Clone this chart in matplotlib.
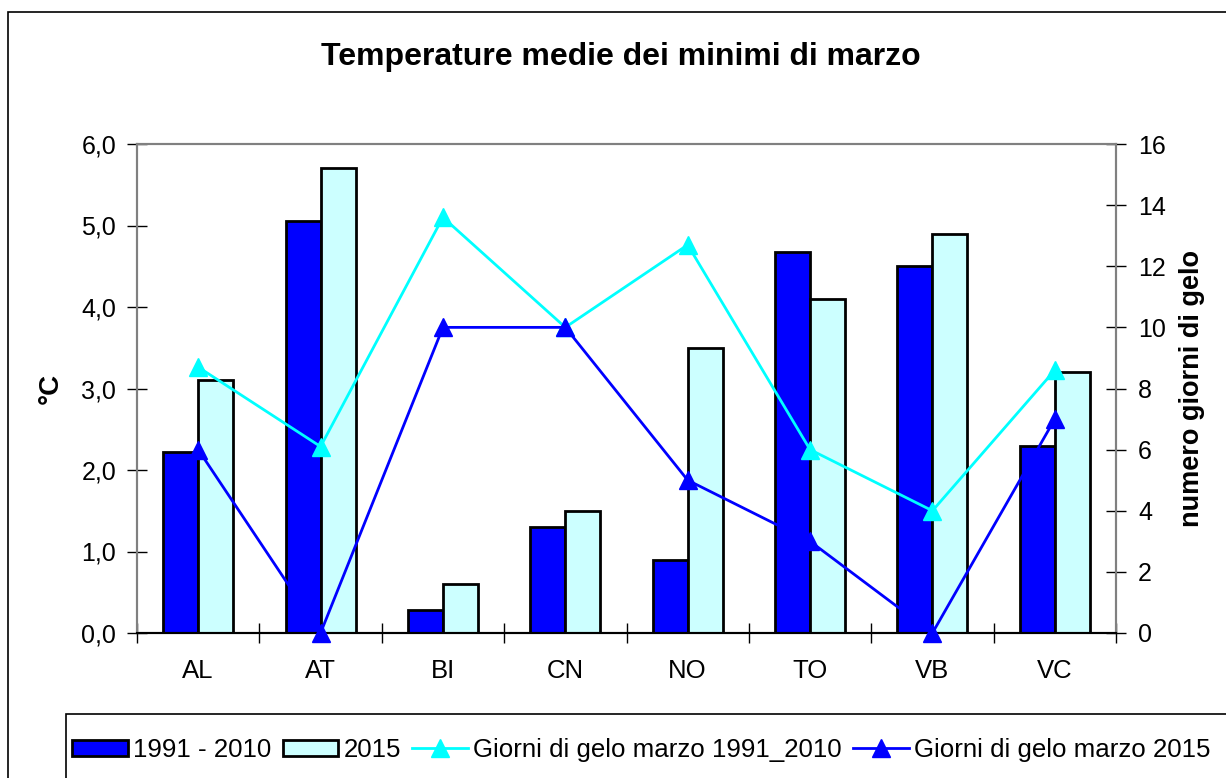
import matplotlib
matplotlib.use("Agg")
import matplotlib.pyplot as plt
from matplotlib.patches import Rectangle
from matplotlib.lines import Line2D
from matplotlib.patches import Patch
from matplotlib.ticker import FuncFormatter, MultipleLocator
import numpy as np

plt.rcParams['font.family'] = ['Liberation Sans', 'DejaVu Sans']

categories = ["AL", "AT", "BI", "CN", "NO", "TO", "VB", "VC"]
temp_1991_2010 = [2.22, 5.05, 0.28, 1.3, 0.9, 4.68, 4.5, 2.3]
temp_2015 = [3.1, 5.7, 0.6, 1.5, 3.5, 4.1, 4.9, 3.2]
gelo_1991_2010 = [8.7, 6.1, 13.6, 10.0, 12.7, 6.0, 4.0, 8.6]
gelo_2015 = [6, 0, 10, 10, 5, 3, 0, 7]

W, H = 1226, 778
fig = plt.figure(figsize=(W / 100, H / 100), dpi=100)
ax = fig.add_axes([137 / W, 1 - 633 / H, (1116 - 137) / W, (633 - 144) / H])
ax2 = ax.twinx()

x = np.arange(len(categories))
bw = 0.286
ax.bar(x - bw / 2, temp_1991_2010, bw, color="#0000FF", edgecolor="black", linewidth=2, zorder=2)
ax.bar(x + bw / 2, temp_2015, bw, color="#CCFFFF", edgecolor="black", linewidth=2, zorder=2)

ax2.plot(x, gelo_1991_2010, color="#00FFFF", lw=2, marker="^", ms=13, clip_on=False, zorder=3)
ax2.plot(x, gelo_2015, color="#0000FF", lw=2, marker="^", ms=13, clip_on=False, zorder=3)

ax.set_xlim(-0.5, len(categories) - 0.5)
ax.set_ylim(0, 6)
ax2.set_ylim(0, 16)
ax.yaxis.set_major_locator(MultipleLocator(1))
ax2.yaxis.set_major_locator(MultipleLocator(2))
ax.yaxis.set_major_formatter(FuncFormatter(lambda v, p: f"{v:.1f}".replace(".", ",")))

ax.set_xticks(x)
ax.set_xticklabels(categories, fontsize=18.5)
ax.set_xticks(np.arange(-0.5, len(categories) + 0.5, 1), minor=True)
ax.tick_params(axis="x", which="major", length=0, pad=19)
ax.tick_params(axis="x", which="minor", direction="inout", length=14, width=1)
ax.tick_params(axis="y", direction="inout", length=14, width=1, labelsize=18, pad=8)
ax2.tick_params(axis="y", direction="inout", length=14, width=1, labelsize=18, pad=9)

for a in (ax, ax2):
    for s in a.spines.values():
        s.set_color("#808080")
        s.set_linewidth(1.5)
ax.spines["bottom"].set_color("black")
ax2.spines["bottom"].set_color("black")

ax.set_ylabel("°C", fontsize=20, fontweight="bold")
ax2.set_ylabel("numero giorni di gelo", fontsize=19.5, fontweight="bold")
ax.yaxis.set_label_coords((51 - 137) / 979, 0.5)
ax2.yaxis.set_label_coords((1192 - 137) / 979, 0.5)
ax.yaxis.label.set_va("center")
ax2.yaxis.label.set_va("center")

fig.text(621 / W, 1 - 57 / H, "Temperature medie dei minimi di marzo", ha="center", va="center",
         fontsize=23, fontweight="bold")

# outer chart border
fig.patches.append(Rectangle((8 / W, -0.1), 1.2, 1 - 12 / H + 0.1, transform=fig.transFigure,
                             fill=False, edgecolor="black", linewidth=1.2))
# legend border
fig.patches.append(Rectangle((66 / W, -0.1), 1.2, 1 - 714 / H + 0.1, transform=fig.transFigure,
                             fill=False, edgecolor="black", linewidth=1.2))

handles = [
    Patch(facecolor="#0000FF", edgecolor="black", linewidth=2),
    Patch(facecolor="#CCFFFF", edgecolor="black", linewidth=2),
    Line2D([], [], color="#00FFFF", lw=2, marker="^", ms=13),
    Line2D([], [], color="#0000FF", lw=2, marker="^", ms=13),
]
labels = ["1991 - 2010", "2015", "Giorni di gelo marzo 1991_2010", "Giorni di gelo marzo 2015"]
leg = fig.legend(handles, labels, loc="center left", bbox_to_anchor=(72 / W, 1 - 750 / H),
                 ncol=4, frameon=False, fontsize=18.6,
                 handlelength=2.15, handleheight=0.6, handletextpad=0.2, columnspacing=0.45,
                 borderpad=0, borderaxespad=0)

fig.savefig("out.png", dpi=100)
